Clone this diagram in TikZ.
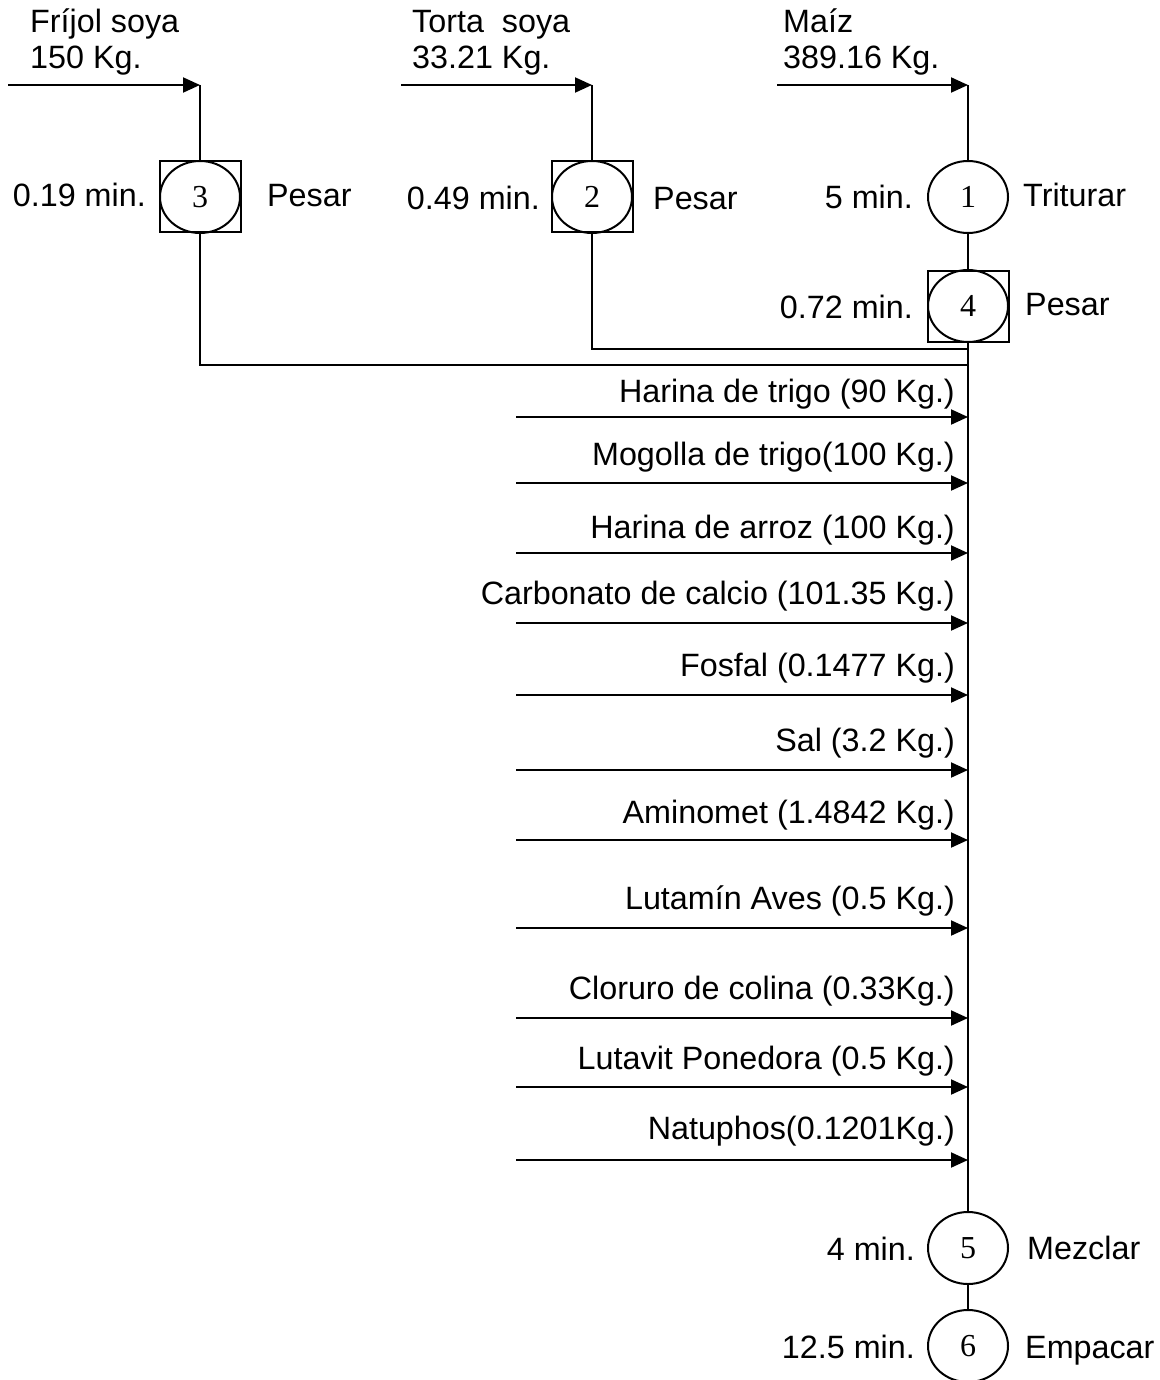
\documentclass[tikz,border=0pt]{standalone}
\usepackage{fontspec}
\setmainfont{Liberation Sans}
\newfontfamily\numfont{Liberation Serif}
\usetikzlibrary{arrows.meta,shapes.geometric}
\begin{document}
\begin{tikzpicture}[x=1pt,y=-1pt,
  ln/.style={line width=2pt},
  arr/.style={line width=2pt,-{Triangle[length=17pt,width=15pt]}},
  txt/.style={font=\fontsize{32.3}{37}\selectfont,inner sep=0pt},
  lbl/.style={txt,anchor=base east},
  lbr/.style={txt,anchor=base west},
  op/.style={draw,line width=2pt,ellipse,minimum width=80pt,minimum height=72pt,inner sep=0pt,font=\numfont\fontsize{32}{34}\selectfont},
  sq/.style={draw,line width=2pt,rectangle,minimum width=81pt,minimum height=71pt,inner sep=0pt}]
\useasboundingbox (0,0) rectangle (1159,1380);
\fill[white] (0,0) rectangle (1159,1380);

% top inputs
\node[txt,anchor=base west] (tf1) at (30,33) {Fríjol soya};
\node[txt,anchor=base west] (tf2) at (30,69) {150 Kg.};
\node[txt,anchor=base west] (tt1) at (412,33) {Torta\ \ soya};
\node[txt,anchor=base west] (tt2) at (412,69) {33.21 Kg.};
\node[txt,anchor=base west] (tm1) at (783,33) {Maíz};
\node[txt,anchor=base west] (tm2) at (783,69) {389.16 Kg.};

\coordinate (sf) at (8,85);   \coordinate (kf) at (200,85);
\coordinate (st) at (401,85); \coordinate (kt) at (592,85);
\coordinate (sm) at (777,85); \coordinate (km) at (968,85);
\draw[arr] (sf) -- (kf);
\draw[arr] (st) -- (kt);
\draw[arr] (sm) -- (km);

% operations
\node[sq] (q3) at (200,197) {};
\node[op] (c3) at (200,197) {3};
\node[sq] (q2) at (592,197) {};
\node[op] (c2) at (592,197) {2};
\node[op] (c1) at (968,197) {1};
\node[sq] (q4) at (968,306) {};
\node[op] (c4) at (968,306) {4};
\node[op] (c5) at (968,1248) {5};
\node[op] (c6) at (968,1346) {6};

\node[lbl] (m3) at (146,207) {0.19 min.};
\node[lbr] (p3) at (267,207) {Pesar};
\node[lbl] (m2) at (540,210) {0.49 min.};
\node[lbr] (p2) at (653,210) {Pesar};
\node[lbl] (m1) at (913,209) {5 min.};
\node[lbr] (p1) at (1023,207) {Triturar};
\node[lbl] (m4) at (913,318) {0.72 min.};
\node[lbr] (p4) at (1025,315) {Pesar};
\node[lbl] (m5) at (915,1260) {4 min.};
\node[lbr] (p5) at (1027,1259) {Mezclar};
\node[lbl] (m6) at (915,1358) {12.5 min.};
\node[lbr] (p6) at (1025,1358) {Empacar};

% connectors
\draw[ln] (kf) -- (q3.north);
\draw[ln] (kt) -- (q2.north);
\draw[ln] (km) -- (c1.north);
\draw[ln] (c1.south) -- (q4.north);
\coordinate (j3) at (200,365); \coordinate (e3) at (968,365);
\coordinate (j2) at (592,349); \coordinate (e2) at (968,349);
\draw[ln] (q3.south) -- (j3) -- (e3);
\draw[ln] (q2.south) -- (j2) -- (e2);
\draw[ln] (q4.south) -- (c5.north);
\draw[ln] (c5.south) -- (c6.north);

% side inputs
\foreach \n/\ya/\yb/\t in {
  a/402/417/{Harina de trigo (90 Kg.)},
  b/465/483/{Mogolla de trigo(100 Kg.)},
  c/538/553/{Harina de arroz (100 Kg.)},
  d/604/623/{Carbonato de calcio (101.35 Kg.)},
  e/676/695/{Fosfal (0.1477 Kg.)},
  f/751/770/{Sal (3.2 Kg.)},
  g/823/840/{Aminomet (1.4842 Kg.)},
  h/909/928/{Lutamín Aves (0.5 Kg.)},
  i/999/1018/{Cloruro de colina (0.33Kg.)},
  j/1069/1087/{Lutavit Ponedora (0.5 Kg.)},
  k/1139/1160/{Natuphos(0.1201Kg.)}}{
  \node[lbl] (l\n) at (955,\ya) {\t};
  \coordinate (s\n) at (516,\yb);
  \coordinate (k\n) at (968,\yb);
  \draw[arr] (s\n) -- (k\n);
}
\end{tikzpicture}
\end{document}
